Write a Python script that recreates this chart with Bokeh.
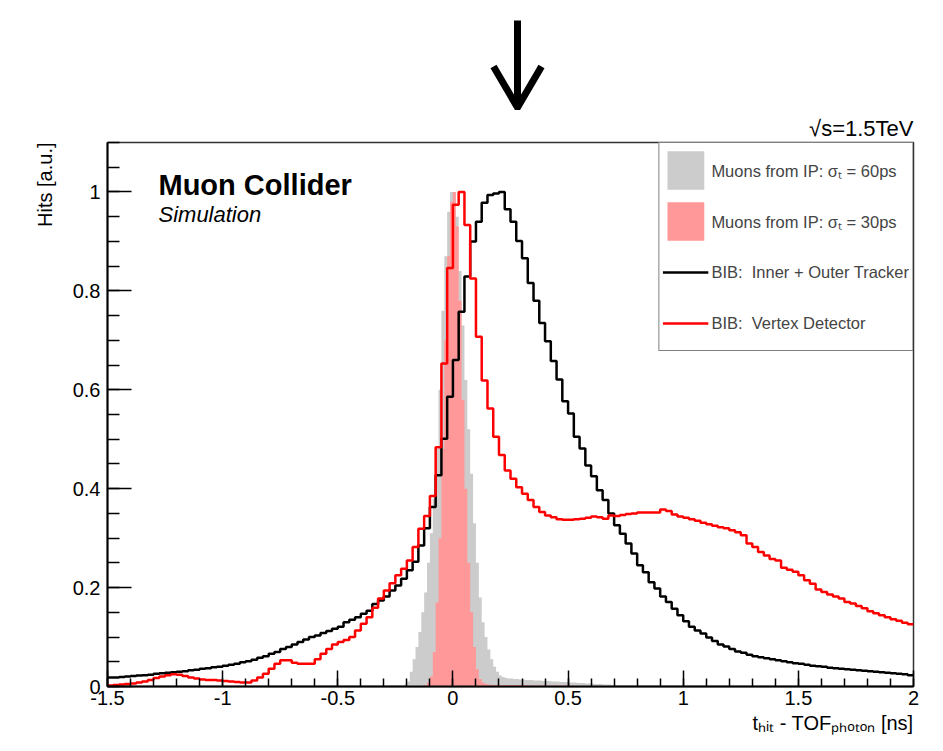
import numpy as np
from bokeh.plotting import figure
from bokeh.layouts import column
from bokeh.models import Legend, LegendItem, FixedTicker, Title, Range1d
from bokeh.embed import file_html
from bokeh.resources import INLINE

# ---------------- data ----------------
# BIB histograms: 140 bins of 0.025 ns from -1.5 to 2.0 ns
bib_x_min = -1.5
bib_bin_width = 0.025

bib_tracker = [
    0.018, 0.018, 0.019, 0.020, 0.021, 0.022, 0.023, 0.024, 0.026, 0.027,
    0.028, 0.029, 0.030, 0.031, 0.033, 0.034, 0.036, 0.037, 0.039, 0.040,
    0.042, 0.044, 0.046, 0.049, 0.051, 0.054, 0.058, 0.061, 0.066, 0.070,
    0.076, 0.080, 0.085, 0.090, 0.095, 0.100, 0.103, 0.108, 0.112, 0.117,
    0.121, 0.130, 0.135, 0.140, 0.147, 0.153, 0.167, 0.174, 0.182, 0.194,
    0.204, 0.218, 0.235, 0.252, 0.285,
    0.320, 0.363, 0.427, 0.501, 0.586,
    0.660, 0.758, 0.829, 0.900, 0.940, 0.978, 0.994, 0.997, 1.000, 0.965,
    0.940, 0.901, 0.866, 0.816, 0.780, 0.735, 0.698, 0.658, 0.621, 0.577,
    0.552, 0.505, 0.481,
    0.447, 0.425, 0.397, 0.377, 0.350, 0.326, 0.309, 0.289, 0.269, 0.245,
    0.231, 0.211, 0.198, 0.182, 0.171, 0.157, 0.144, 0.132, 0.121, 0.113,
    0.107, 0.099, 0.092, 0.085, 0.081, 0.076, 0.071, 0.068, 0.064, 0.061,
    0.059, 0.057, 0.055, 0.053, 0.051, 0.049, 0.047, 0.046, 0.044, 0.042,
    0.041, 0.040, 0.038, 0.037, 0.036, 0.035, 0.034, 0.033, 0.032, 0.031,
    0.030, 0.029, 0.028, 0.027, 0.026, 0.025, 0.023,
]

bib_vertex = [
    0.002, 0.003, 0.004, 0.005, 0.006, 0.008, 0.010, 0.013, 0.017, 0.020,
    0.023, 0.025, 0.024, 0.021, 0.018, 0.016, 0.014, 0.013, 0.013, 0.012,
    0.011, 0.010, 0.009, 0.008, 0.008, 0.012, 0.018, 0.026, 0.036, 0.046,
    0.053, 0.053, 0.048, 0.046, 0.046, 0.046, 0.055, 0.066, 0.076, 0.085,
    0.090, 0.094, 0.100, 0.113, 0.127, 0.140, 0.159, 0.178, 0.194, 0.209,
    0.225, 0.238, 0.255, 0.282, 0.319,
    0.345, 0.385, 0.484, 0.653, 0.846,
    0.974, 1.000, 0.933, 0.825, 0.707, 0.619, 0.562, 0.505, 0.468,
    0.437, 0.420, 0.403, 0.390, 0.377, 0.363, 0.353, 0.346, 0.342, 0.338,
    0.337,
    0.337, 0.338, 0.339, 0.341, 0.344, 0.342, 0.339, 0.346, 0.345, 0.347,
    0.349, 0.350, 0.352, 0.352, 0.352, 0.352, 0.358, 0.355, 0.348, 0.344,
    0.341, 0.338, 0.335, 0.331, 0.328, 0.325, 0.322, 0.320, 0.316, 0.312,
    0.306, 0.289, 0.282, 0.272, 0.265, 0.258, 0.255, 0.240, 0.236, 0.232,
    0.225, 0.215, 0.208, 0.196, 0.191, 0.186, 0.182, 0.178, 0.171, 0.168,
    0.163, 0.158, 0.152, 0.148, 0.144, 0.140, 0.136, 0.133, 0.129, 0.126,
]

# Muons from IP: 80 bins of 0.0125 ns starting at -0.25 ns
muon_x_min = -0.25
muon_bin_width = 0.0125

muon_60ps = [
    0.000, 0.001, 0.002, 0.004, 0.010, 0.030, 0.055, 0.080, 0.110, 0.150,
    0.190, 0.250, 0.310, 0.380, 0.480, 0.600, 0.760, 0.870, 0.960, 1.000,
    1.000, 0.950, 0.840, 0.730, 0.620, 0.520, 0.430, 0.330, 0.250, 0.180,
    0.130, 0.100, 0.075, 0.055, 0.040, 0.030, 0.022, 0.019, 0.017, 0.016,
    0.016, 0.015, 0.015, 0.014, 0.014, 0.013, 0.013, 0.013, 0.012, 0.012,
    0.012, 0.011, 0.011, 0.011, 0.010, 0.010, 0.010, 0.009, 0.009, 0.009,
    0.008, 0.008, 0.008, 0.007, 0.007, 0.007, 0.006, 0.006, 0.006, 0.005,
    0.005, 0.005, 0.004, 0.004, 0.004, 0.003, 0.003, 0.003, 0.002, 0.002,
]

muon_30ps = [
    0.000, 0.000, 0.000, 0.000, 0.000, 0.000, 0.000, 0.000, 0.000, 0.001,
    0.003, 0.008, 0.020, 0.070, 0.170, 0.300, 0.480, 0.700, 0.870, 0.980,
    1.000, 0.930, 0.780, 0.580, 0.400, 0.250, 0.150, 0.080, 0.035, 0.015,
    0.008, 0.005, 0.004, 0.003, 0.003, 0.003, 0.003, 0.003, 0.003, 0.003,
    0.003, 0.003, 0.003, 0.003, 0.003, 0.003, 0.002, 0.002, 0.002, 0.002,
    0.002, 0.002, 0.002, 0.002, 0.002, 0.002, 0.002, 0.002, 0.002, 0.002,
    0.002, 0.002, 0.001, 0.001, 0.001, 0.001, 0.001, 0.001, 0.001, 0.001,
    0.001, 0.001, 0.001, 0.001, 0.001, 0.001, 0.001, 0.001, 0.001, 0.001,
]

legend_labels = [
    "Muons from IP: \u03c3\u209c = 60ps",
    "Muons from IP: \u03c3\u209c = 30ps",
    "BIB:  Inner + Outer Tracker",
    "BIB:  Vertex Detector",
]

x_ticks = [-1.5, -1.0, -0.5, 0.0, 0.5, 1.0, 1.5, 2.0]
x_tick_labels = ["-1.5", "-1", "-0.5", "0", "0.5", "1", "1.5", "2"]
y_ticks = [0.0, 0.2, 0.4, 0.6, 0.8, 1.0]
y_tick_labels = ["0", "0.2", "0.4", "0.6", "0.8", "1"]

x_title = "t\u2095\u1d62\u209c - TOF\u209a\u2095\u2092\u209c\u2092\u2099 [ns]"
y_title = "Hits [a.u.]"
energy_text = "\u221as=1.5TeV"
X_RANGE = (-1.5, 2.0)
Y_RANGE = (0.0, 1.1)

FONT = "Liberation Sans"
FRAME_W, FRAME_H = 806, 544
LEFT, RIGHT = 107, 27


def step_xy(x0, w, vals):
    edges = x0 + w * np.arange(len(vals) + 1)
    ys = list(vals) + [vals[-1]]
    return edges, ys


# ---------------- main plot ----------------
p = figure(frame_width=FRAME_W, frame_height=FRAME_H,
           x_range=Range1d(*X_RANGE), y_range=Range1d(*Y_RANGE),
           output_backend="svg", toolbar_location=None,
           min_border_left=LEFT, min_border_right=RIGHT,
           min_border_top=32, min_border_bottom=62)
p.grid.visible = False
p.outline_line_color = "#333333"
p.outline_line_width = 1.5
p.background_fill_color = "white"
p.border_fill_color = "white"

mx, my = step_xy(muon_x_min, muon_bin_width, muon_60ps)
g60 = p.varea_step(x=mx, y1=[0] * len(mx), y2=my, step_mode="after",
                   fill_color="#cccccc")
mx, my = step_xy(muon_x_min, muon_bin_width, muon_30ps)
g30 = p.varea_step(x=mx, y1=[0] * len(mx), y2=my, step_mode="after",
                   fill_color="#ff9999")

bx, by = step_xy(bib_x_min, bib_bin_width, bib_tracker)
lt = p.step(x=bx, y=by, mode="after", line_color="black", line_width=2.5)
bx, by = step_xy(bib_x_min, bib_bin_width, bib_vertex)
lv = p.step(x=bx, y=by, mode="after", line_color="#ff0000", line_width=2.5)

for ax, ticks, labels, minor in ((p.xaxis[0], x_ticks, x_tick_labels, 5),
                                 (p.yaxis[0], y_ticks, y_tick_labels, 4)):
    span = ticks[1] - ticks[0]
    step = span / minor
    minor_ticks = [round(ticks[0] - span + k * step, 4)
                   for k in range(int(round((ticks[-1] - ticks[0] + 2 * span) / step)) + 1)]
    ax.ticker = FixedTicker(ticks=ticks + [ticks[-1] + span],
                            minor_ticks=minor_ticks)
    ax.major_label_overrides = {tv: lb for tv, lb in zip(ticks, labels)}
    ax.axis_line_color = "black"
    ax.axis_line_width = 2
    ax.major_tick_line_color = "black"
    ax.minor_tick_line_color = "black"
    ax.major_tick_line_width = 1.5
    ax.minor_tick_line_width = 1.5
    ax.major_tick_out = 0
    ax.minor_tick_out = 0
    ax.major_label_text_font = FONT
    ax.major_label_text_font_size = "20px"
    ax.major_label_text_color = "black"

p.xaxis.major_tick_in = 16
p.xaxis.minor_tick_in = 8
p.yaxis.major_tick_in = 24
p.yaxis.minor_tick_in = 12
p.xaxis.major_label_standoff = 4
p.yaxis.major_label_standoff = 7

# axis titles, right / top aligned as in ROOT
p.add_layout(Title(text=x_title, align="right", text_font=FONT,
                   text_font_size="20px", text_font_style="normal",
                   text_color="black", standoff=5), "below")
p.add_layout(Title(text=y_title, align="right", text_font=FONT,
                   text_font_size="20px", text_font_style="normal",
                   text_color="black", standoff=28), "left")

legend = Legend(items=[LegendItem(label=legend_labels[0], renderers=[g60]),
                       LegendItem(label=legend_labels[1], renderers=[g30]),
                       LegendItem(label=legend_labels[2], renderers=[lt]),
                       LegendItem(label=legend_labels[3], renderers=[lv])],
                location="top_right", margin=0, padding=3, spacing=3,
                glyph_width=46, glyph_height=48, label_height=48,
                label_standoff=3, label_text_font=FONT,
                label_text_font_size="16.5px",
                border_line_color="black", border_line_width=1.5,
                background_fill_color="white", background_fill_alpha=1.0)
p.add_layout(legend)

p.add_layout(Title(text=energy_text, align="right", text_font=FONT,
                   text_font_size="22px", text_font_style="normal",
                   text_color="black", standoff=4), "above")

# in-frame texts
px_x = (X_RANGE[1] - X_RANGE[0]) / FRAME_W
px_y = (Y_RANGE[1] - Y_RANGE[0]) / FRAME_H
p.text(x=[X_RANGE[0] + 51 * px_x], y=[Y_RANGE[1] - 42 * px_y],
       text=["Muon Collider"], text_font={"value": FONT},
       text_font_style="bold", text_font_size="29px", text_color="black",
       text_baseline="alphabetic")
p.text(x=[X_RANGE[0] + 51 * px_x], y=[Y_RANGE[1] - 72 * px_y],
       text=["Simulation"], text_font={"value": FONT},
       text_font_style="italic", text_font_size="22px", text_color="black",
       text_baseline="alphabetic")

# ---------------- arrow strip above the plot ----------------
top = figure(frame_width=FRAME_W, frame_height=110, x_range=p.x_range,
             y_range=Range1d(0, 110), output_backend="svg",
             toolbar_location=None, x_axis_location=None,
             y_axis_location=None, min_border_left=LEFT,
             min_border_right=RIGHT, min_border_top=0, min_border_bottom=0)
top.grid.visible = False
top.outline_line_color = None
top.border_fill_color = "white"
ax_x = X_RANGE[0] + (517 - LEFT) * px_x
head = 24 * px_x
top.segment(x0=[ax_x], y0=[90], x1=[ax_x], y1=[6], line_width=7,
            line_color="black")
top.line(x=[ax_x - head, ax_x, ax_x + head], y=[44, 3, 44], line_width=7,
         line_color="black", line_join="miter")

layout = column(top, p, spacing=0)
open("out.html", "w").write(file_html(layout, INLINE))
